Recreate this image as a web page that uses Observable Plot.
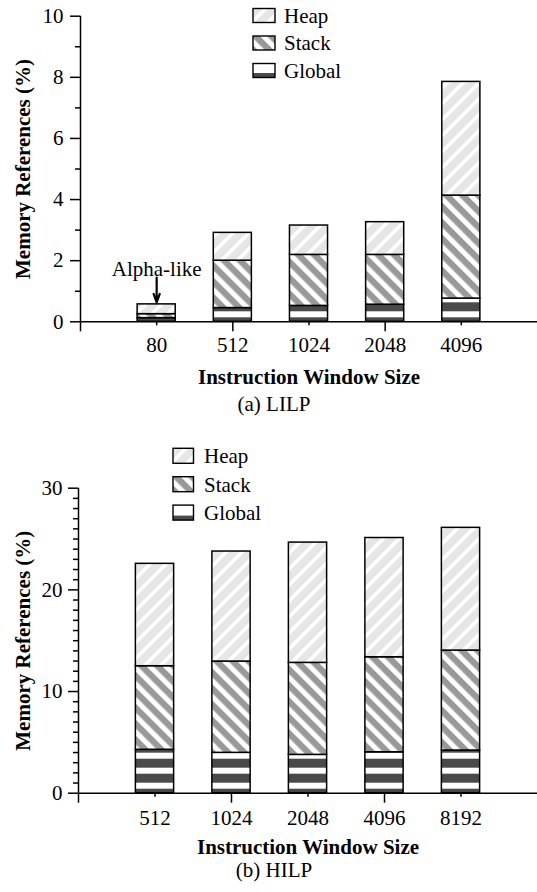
<!DOCTYPE html>
<html><head><meta charset="utf-8">
<script src="https://cdn.jsdelivr.net/npm/d3@7"></script>
<script src="https://cdn.jsdelivr.net/npm/@observablehq/plot@0.6"></script>
<style>
body{margin:0;background:#fff;}
#page{position:relative;width:537px;height:892px;overflow:hidden;font-family:"Liberation Serif","Times New Roman",serif;color:#000;background:#fff;}
.chart{position:absolute;left:0;}
.chart text{font-family:"Liberation Serif","Times New Roman",serif;}
.caption{position:absolute;left:0;width:548px;text-align:center;font-size:21px;line-height:21px;font-family:"Liberation Serif","Times New Roman",serif;}
</style></head>
<body><div id="page"></div>
<script>
// ---- data ----
const seriesNames = ["Global", "Stack", "Heap"];
const legendOrder = ["Heap", "Stack", "Global"];

const lilpCategories = ["80", "512", "1024", "2048", "4096"];
const lilpGlobal = [0.12, 0.45, 0.52, 0.56, 0.76];
const lilpStack  = [0.13, 1.55, 1.67, 1.63, 3.37];
const lilpHeap   = [0.32, 0.91, 0.96, 1.07, 3.72];
const lilpYTicks = [0, 2, 4, 6, 8, 10];
const lilpYMinor = [1, 3, 5, 7, 9];

const hilpCategories = ["512", "1024", "2048", "4096", "8192"];
const hilpGlobal = [4.27, 3.97, 3.77, 4.03, 4.20];
const hilpStack  = [8.22, 8.98, 9.05, 9.34, 9.83];
const hilpHeap   = [10.07, 10.82, 11.83, 11.73, 12.07];
const hilpYTicks = [0, 10, 20, 30];
const hilpYMinor = d3.range(0, 31).filter(v => v % 10 !== 0);

const xTitle = "Instruction Window Size";
const yTitle = "Memory References (%)";
const lilpAnnotation = [{category: "80", label: "Alpha-like", from: 1.45}];

const FONT = '"Liberation Serif", "Times New Roman", serif';

function makeChart(cfg) {
  const {id, categories, global, stack, heap, yDomain, yMajor, yMinor, L, annotation} = cfg;
  const rows = [];
  categories.forEach((c, i) => {
    rows.push({category: c, pos: i + 1, series: "Global", value: global[i]});
    rows.push({category: c, pos: i + 1, series: "Stack", value: stack[i]});
    rows.push({category: c, pos: i + 1, series: "Heap", value: heap[i]});
  });
  const totals = categories.map((c, i) => global[i] + stack[i] + heap[i]);
  const positions = categories.map((c, i) => i + 1);
  const marks = [
    Plot.rectY(rows, Plot.stackY({
      x1: d => d.pos - 0.25, x2: d => d.pos + 0.25, y: "value",
      fill: "series", order: seriesNames, stroke: "black", strokeWidth: 1.5
    })),
    Plot.ruleY([0], {strokeWidth: 1.5}),
    Plot.ruleX([0], {strokeWidth: 1.5}),
    Plot.axisY({ticks: yMinor, tickSize: 5, tickFormat: () => "", label: null, strokeWidth: 1.5}),
    Plot.axisY({ticks: yMajor, tickSize: 10, tickPadding: L.yPad, label: null, fontSize: 21, strokeWidth: 1.5}),
    Plot.axisX({ticks: [1, 3, 5], tickSize: 4, tickFormat: () => "", label: null, strokeWidth: 1.5}),
    Plot.axisX({ticks: [0, 2, 4], tickSize: 10, tickFormat: () => "", label: null, strokeWidth: 1.5}),
    Plot.axisX({ticks: positions, tickSize: 0, tickPadding: L.xPad, tickFormat: p => categories[p - 1], label: null, fontSize: 21}),
    Plot.text([xTitle], {text: d => d, frameAnchor: "bottom", textAnchor: "middle", lineAnchor: "bottom", dy: L.xTitleDy, fontWeight: "bold", fontSize: 21}),
    Plot.text([yTitle], {text: d => d, frameAnchor: "left", textAnchor: "middle", lineAnchor: "middle", rotate: -90, dx: L.yTitleDx, fontWeight: "bold", fontSize: 21})
  ];
  if (annotation) {
    const ann = annotation.map(a => {
      const i = categories.indexOf(a.category);
      return {...a, pos: i + 1, total: totals[i]};
    });
    marks.push(Plot.text(ann, {x: "pos", y: "total", text: "label", dy: -28, lineAnchor: "bottom", fontSize: 21}));
    marks.push(Plot.arrow(ann, {x1: "pos", x2: "pos", y1: "from", y2: "total", insetEnd: 2, headLength: 12, headAngle: 40, strokeWidth: 2.2, stroke: "black"}));
  }
  const svg = Plot.plot({
    width: 537, height: L.height,
    marginLeft: L.ml, marginRight: 0, marginTop: L.mt, marginBottom: L.mb,
    style: {fontFamily: FONT, fontSize: "21px", color: "black", background: "white", overflow: "visible"},
    x: {type: "linear", domain: [0, 6]},
    y: {domain: yDomain},
    color: {type: "ordinal", domain: seriesNames, range: seriesNames.map(s => `url(#${id}-${s})`)},
    marks
  });
  const y0 = svg.scale("y").apply(0);
  const s = d3.select(svg);
  const defs = s.insert("defs", ":first-child");
  // Heap: light gray with white "/" stripes
  const ph = defs.append("pattern").attr("id", `${id}-Heap`).attr("patternUnits", "userSpaceOnUse")
    .attr("width", 11.3).attr("height", 11.3).attr("patternTransform", "rotate(45)");
  ph.append("rect").attr("width", 11.3).attr("height", 11.3).attr("fill", "#e6e6e6");
  ph.append("rect").attr("width", 3.6).attr("height", 11.3).attr("fill", "#ffffff");
  // Stack: mid gray with white "\" stripes
  const ps = defs.append("pattern").attr("id", `${id}-Stack`).attr("patternUnits", "userSpaceOnUse")
    .attr("width", 11.3).attr("height", 11.3).attr("patternTransform", "rotate(-45)");
  ps.append("rect").attr("width", 11.3).attr("height", 11.3).attr("fill", "#999999");
  ps.append("rect").attr("width", 5).attr("height", 11.3).attr("fill", "#ffffff");
  // Global: horizontal dark/white bands anchored to the baseline
  const pg = defs.append("pattern").attr("id", `${id}-Global`).attr("patternUnits", "userSpaceOnUse")
    .attr("x", 0).attr("y", y0).attr("width", 10).attr("height", 15);
  pg.append("rect").attr("width", 10).attr("height", 15).attr("fill", "#4a4a4a");
  pg.append("rect").attr("y", 5).attr("width", 10).attr("height", 6).attr("fill", "#ffffff");

  // legend
  const lg = s.append("g").style("font-family", FONT).style("font-size", "21px").attr("text-anchor", "start");
  legendOrder.forEach((name, k) => {
    const top = L.ly + k * L.lstep;
    if (name === "Global") {
      lg.append("rect").attr("x", L.lx).attr("y", top).attr("width", L.lw).attr("height", L.lh).attr("fill", "#fff");
      lg.append("rect").attr("x", L.lx).attr("y", top + L.lh - 4.5).attr("width", L.lw).attr("height", 4.5).attr("fill", "#4a4a4a");
    } else {
      lg.append("rect").attr("x", L.lx).attr("y", top).attr("width", L.lw).attr("height", L.lh).attr("fill", `url(#${id}-${name})`);
    }
    lg.append("rect").attr("x", L.lx).attr("y", top).attr("width", L.lw).attr("height", L.lh)
      .attr("fill", "none").attr("stroke", "black").attr("stroke-width", 1.4);
    lg.append("text").attr("x", L.lx + L.lw + L.lgap).attr("y", top + L.lh).attr("fill", "black")
      .attr("text-anchor", "start").text(name);
  });
  svg.classList.add("chart");
  svg.style.top = L.top + "px";
  svg.style.position = "absolute";
  return svg;
}

const page = document.getElementById("page");

page.appendChild(makeChart({
  id: "lilp", categories: lilpCategories, global: lilpGlobal, stack: lilpStack, heap: lilpHeap,
  yDomain: [0, 10], yMajor: lilpYTicks, yMinor: lilpYMinor, annotation: lilpAnnotation,
  L: {top: 0, height: 395, ml: 80, mt: 15.7, mb: 73.7, yPad: 7, xPad: 15, xTitleDy: 61.7, yTitleDx: -57,
      lx: 253, ly: 8.5, lw: 22, lh: 14, lstep: 27.5, lgap: 9}
}));

const capA = document.createElement("div");
capA.className = "caption"; capA.style.top = "394.4px"; capA.textContent = "(a) LILP";
page.appendChild(capA);

page.appendChild(makeChart({
  id: "hilp", categories: hilpCategories, global: hilpGlobal, stack: hilpStack, heap: hilpHeap,
  yDomain: [0, 30], yMajor: hilpYTicks, yMinor: hilpYMinor,
  L: {top: 440, height: 420, ml: 78, mt: 47.7, mb: 67.3, yPad: 6, xPad: 17, xTitleDy: 60.3, yTitleDx: -55.5,
      lx: 173, ly: 8.3, lw: 20.5, lh: 15, lstep: 28.4, lgap: 10.5}
}));

const capB = document.createElement("div");
capB.className = "caption"; capB.style.top = "860.4px"; capB.textContent = "(b) HILP";
page.appendChild(capB);
</script>
</body></html>
